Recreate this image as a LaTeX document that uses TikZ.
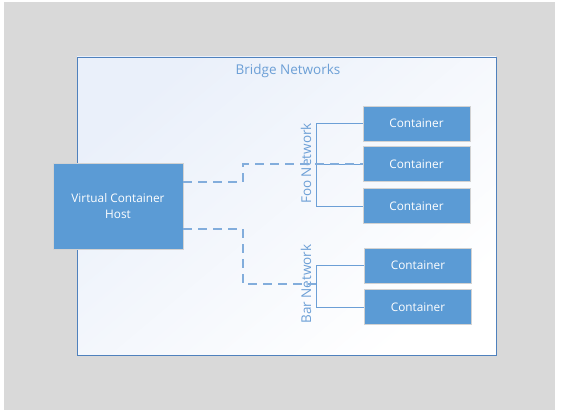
\documentclass[tikz,border=0pt]{standalone}
\usepackage{fontspec}
\setmainfont{Open Sans}
\usetikzlibrary{positioning}
\definecolor{boxblue}{HTML}{5B9BD5}
\definecolor{linkblue}{HTML}{6C9FD6}
\definecolor{framegray}{HTML}{D9D9D9}
\definecolor{panelline}{HTML}{4F81BD}
\definecolor{paneltint}{HTML}{EAF0FA}
\begin{document}
\begin{tikzpicture}[x=1pt,y=-1pt,
  box/.style={rectangle,fill=boxblue,draw=gray!35,line width=0.8pt,text=white,font=\fontsize{11.8}{16}\selectfont,align=center,inner sep=0pt},
  cont/.style={box,minimum width=107pt,minimum height=35pt},
  netlabel/.style={text=linkblue,font=\fontsize{13.5}{16}\selectfont,rotate=90,inner sep=0pt},
  bus/.style={draw=linkblue,line width=0.8pt},
  link/.style={draw=linkblue!85,line width=1.2pt,dash pattern=on 9pt off 6pt}]
\useasboundingbox (0,0) rectangle (561,417);
\fill[framegray] (4,2) rectangle (555,410);
\shade[top color=paneltint,bottom color=white,shading angle=40] (77,57) rectangle (496,355);
\draw[panelline,line width=0.8pt] (77,57) rectangle (496,355);
\node[text=linkblue,font=\fontsize{13.5}{16}\selectfont] (title) at (288,71) {Bridge Networks};

\node[box,minimum width=130pt,minimum height=86pt] (host) at (118,206) {Virtual Container\\Host};
\node[cont] (c1) at (416.5,123.5) {Container};
\node[cont] (c2) at (416.5,164) {Container};
\node[cont] (c3) at (416.5,206) {Container};
\node[cont] (c4) at (418,265.5) {Container};
\node[cont] (c5) at (418,307) {Container};

\node[netlabel] (foo) at (306,163.5) {Foo Network};
\node[netlabel] (bar) at (306,284) {Bar Network};

% foo network
\coordinate (footop) at (316,123.5);
\coordinate (foomid) at (316,164);
\coordinate (foobot) at (316,206);
\draw[bus] (c1.west) -- (footop) -- (foobot) -- (c3.west);
\draw[bus] (foomid) -- (c2.west);

% bar network
\coordinate (bartop) at (316,265.5);
\coordinate (barmid) at (316,284);
\coordinate (barbot) at (316,307);
\draw[bus] (c4.west) -- (bartop) -- (barbot) -- (c5.west);

% host links
\coordinate (h1) at (host.east |- 0,182);
\coordinate (h2) at (host.east |- 0,229);
\draw[link] (h1) -- (243,182) -- (243,164) -- (c2.west);
\draw[link] (h2) -- (243,229) -- (243,284) -- (barmid);
\end{tikzpicture}
\end{document}
